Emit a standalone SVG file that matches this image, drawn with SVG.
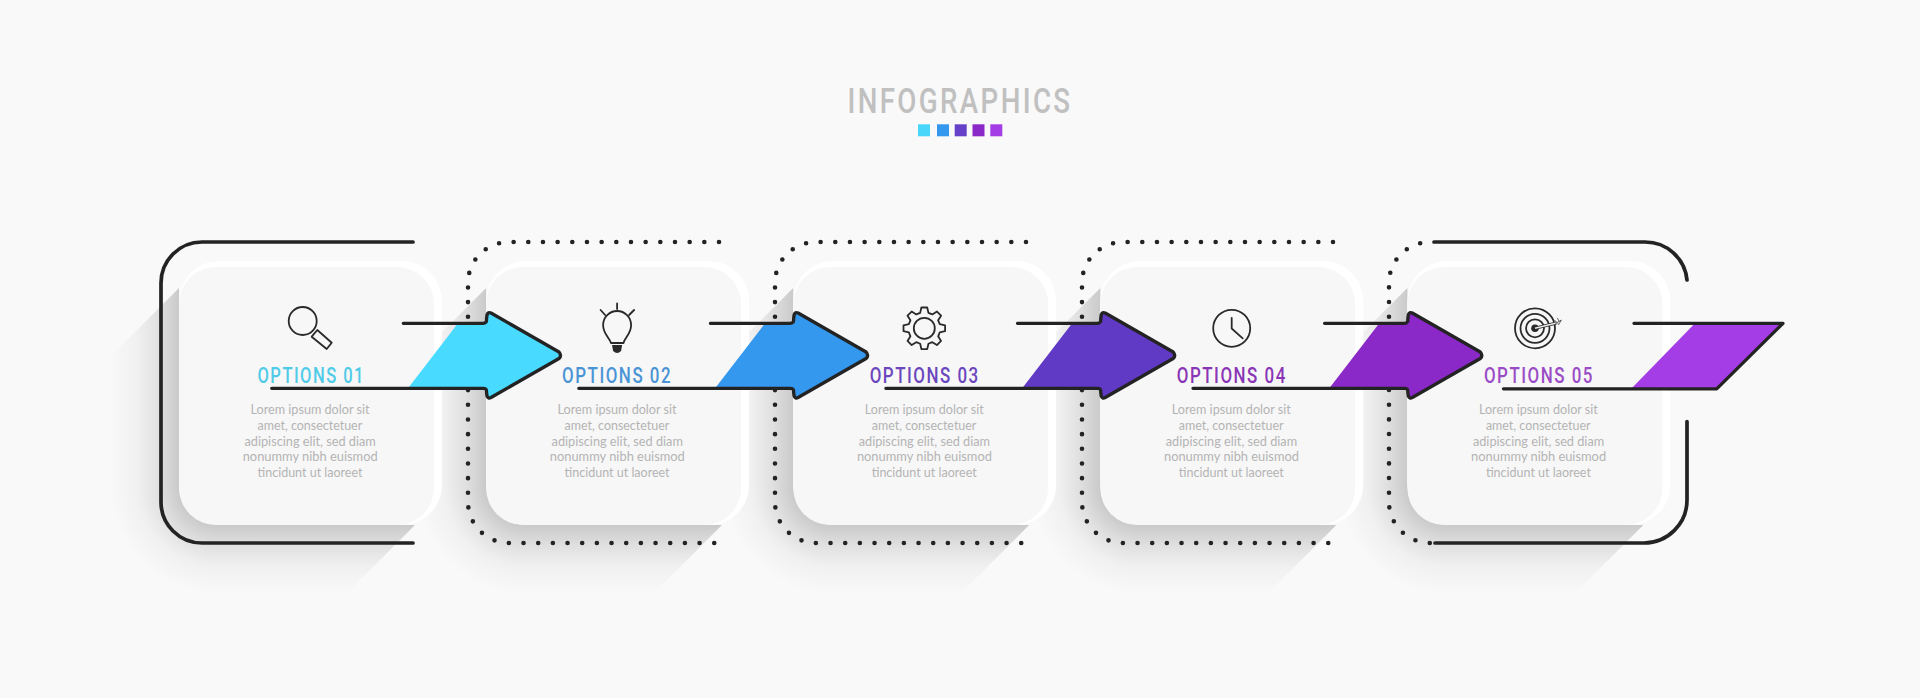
<svg xmlns="http://www.w3.org/2000/svg" xmlns:xlink="http://www.w3.org/1999/xlink" width="1920" height="698" viewBox="0 0 1920 698">
<style>
.title{font-family:Roboto,"Liberation Sans",sans-serif;font-size:35px;font-weight:500;fill:#c0c0c0}
.opt{font-family:Roboto,"Liberation Sans",sans-serif;font-size:22.5px;font-weight:500;letter-spacing:2px}
.body{font-family:Lato,"Open Sans",sans-serif;font-size:13.5px;fill:#b4b4b4}
.ic{fill:none;stroke:#2a2a2a;stroke-width:1.8;stroke-linejoin:round;stroke-linecap:round}
.line{fill:none;stroke:#232323;stroke-width:3.3;stroke-linecap:round;stroke-linejoin:round}
.dots{fill:none;stroke:#232323;stroke-width:4.6;stroke-linecap:round;stroke-dasharray:0 14.67}
.rim{fill:#ffffff}.card{fill:#f7f7f7}
</style>
<defs>
<linearGradient id="gl" gradientUnits="userSpaceOnUse" x1="179" y1="0" x2="109" y2="0"><stop offset="0" stop-color="#000" stop-opacity=".19"/><stop offset=".3" stop-color="#000" stop-opacity=".1"/><stop offset=".6" stop-color="#000" stop-opacity=".035"/><stop offset="1" stop-color="#000" stop-opacity="0"/></linearGradient>
<linearGradient id="gb" gradientUnits="userSpaceOnUse" x1="0" y1="525" x2="0" y2="595"><stop offset="0" stop-color="#000" stop-opacity=".19"/><stop offset=".3" stop-color="#000" stop-opacity=".1"/><stop offset=".6" stop-color="#000" stop-opacity=".035"/><stop offset="1" stop-color="#000" stop-opacity="0"/></linearGradient>
<radialGradient id="gc" gradientUnits="userSpaceOnUse" cx="219" cy="485" r="110"><stop offset=".364" stop-color="#000" stop-opacity=".19"/><stop offset=".555" stop-color="#000" stop-opacity=".1"/><stop offset=".745" stop-color="#000" stop-opacity=".035"/><stop offset="1" stop-color="#000" stop-opacity="0"/></radialGradient>
<clipPath id="sc"><polygon points="179,288 109,358 109,595 345,595 415,525 300,400"/></clipPath>
<g id="shadow" clip-path="url(#sc)">
<rect x="109" y="288" width="70" height="197" fill="url(#gl)"/>
<rect x="109" y="485" width="110" height="110" fill="url(#gc)"/>
<rect x="219" y="525" width="196" height="70" fill="url(#gb)"/>
</g>
<g id="panel">
<rect class="rim" x="179" y="261" width="263" height="264" rx="40" ry="40"/>
<rect class="card" x="179" y="267" width="255" height="258" rx="37" ry="37"/>
</g>
<path id="arrowFill" d="M408 388.3 L458 323.3 H483 Q487 323.3 486.5 319 L487 315 Q488 311.5 491 313 L559 352 Q562 355.7 559 358.5 L491 397.5 Q488 399 487 396 L486.5 392 Q487 388.3 483 388.3 Z"/>
<path id="arrowLine" class="line" d="M403.3 323.3 H483 Q487 323.3 486.5 319 L487 315 Q488 311.5 491 313 L559 352 Q562 355.7 559 358.5 L491 397.5 Q488 399 487 396 L486.5 392 Q487 388.3 483 388.3 H271.7"/>
</defs>
<rect width="1920" height="698" fill="#f9f9f9"/>

<g id="title">
<text class="title" x="847.5" y="112.5" textLength="225" lengthAdjust="spacingAndGlyphs" letter-spacing="3">INFOGRAPHICS</text>
<rect x="918" y="124.3" width="12" height="12" fill="#48d6fb"/>
<rect x="937" y="124.3" width="12" height="12" fill="#3498ef"/>
<rect x="954.7" y="124.3" width="12" height="12" fill="#6540c8"/>
<rect x="972.5" y="124.3" width="12" height="12" fill="#8a28c8"/>
<rect x="990.3" y="124.3" width="12" height="12" fill="#a43de5"/>
</g>

<g id="step-5" transform="translate(1228.4 0)">
<use href="#shadow"/><use href="#panel"/>
<circle class="ic" cx="306.6" cy="328.3" r="20"/><circle class="ic" cx="306.6" cy="328.3" r="14.5"/><circle class="ic" cx="306.6" cy="328.3" r="9"/><circle cx="306.6" cy="328.3" r="3.8" fill="#2a2a2a"/>
<path d="M306.6 328.3 L328 323" stroke="#2a2a2a" stroke-width="3" fill="none"/>
<path d="M306.6 328.3 L328 323" stroke="#e8e8e8" stroke-width="1.5" fill="none"/>
<path d="M326 320 L330 324 M327 323.6 L333 320 M330 325 L333 320 M329 318 L331 322" stroke="#666" stroke-width="1" fill="none"/>
<text class="opt" x="255.5" y="382.7" textLength="110" lengthAdjust="spacingAndGlyphs" fill="#9a4cc6">OPTIONS 05</text>
<text class="body" x="250.5" y="414" textLength="119" lengthAdjust="spacingAndGlyphs">Lorem ipsum dolor sit</text>
<text class="body" x="257.5" y="430" textLength="104.7" lengthAdjust="spacingAndGlyphs">amet, consectetuer</text>
<text class="body" x="244.5" y="445.6" textLength="131.3" lengthAdjust="spacingAndGlyphs">adipiscing elit, sed diam</text>
<text class="body" x="242.7" y="461.4" textLength="135" lengthAdjust="spacingAndGlyphs">nonummy nibh euismod</text>
<text class="body" x="257.5" y="477" textLength="105" lengthAdjust="spacingAndGlyphs">tincidunt ut laoreet</text>
</g>

<g id="step-4" transform="translate(921.3 0)">
<use href="#shadow"/><use href="#panel"/>
<circle class="ic" cx="310.4" cy="328.3" r="18.5"/>
<path class="ic" d="M310.4 318 V328.5 L321.4 338.3"/>
<text class="opt" x="255.5" y="382.7" textLength="110" lengthAdjust="spacingAndGlyphs" fill="#8a35b5">OPTIONS 04</text>
<text class="body" x="250.5" y="414" textLength="119" lengthAdjust="spacingAndGlyphs">Lorem ipsum dolor sit</text>
<text class="body" x="257.5" y="430" textLength="104.7" lengthAdjust="spacingAndGlyphs">amet, consectetuer</text>
<text class="body" x="244.5" y="445.6" textLength="131.3" lengthAdjust="spacingAndGlyphs">adipiscing elit, sed diam</text>
<text class="body" x="242.7" y="461.4" textLength="135" lengthAdjust="spacingAndGlyphs">nonummy nibh euismod</text>
<text class="body" x="257.5" y="477" textLength="105" lengthAdjust="spacingAndGlyphs">tincidunt ut laoreet</text>
</g>

<g id="step-3" transform="translate(614.2 0)">
<use href="#shadow"/><use href="#panel"/>
<g transform="translate(310.1 328.3)"><polygon class="ic" points="15.45,-4.14 20.8,-2.92 20.8,2.92 15.45,4.14 13.86,8 16.77,12.64 12.64,16.77 8,13.86 4.14,15.45 2.92,20.8 -2.92,20.8 -4.14,15.45 -8,13.86 -12.64,16.77 -16.77,12.64 -13.86,8 -15.45,4.14 -20.8,2.92 -20.8,-2.92 -15.45,-4.14 -13.86,-8 -16.77,-12.64 -12.64,-16.77 -8,-13.86 -4.14,-15.45 -2.92,-20.8 2.92,-20.8 4.14,-15.45 8,-13.86 12.64,-16.77 16.77,-12.64 13.86,-8"/><circle class="ic" r="10.5"/></g>
<text class="opt" x="255.5" y="382.7" textLength="110" lengthAdjust="spacingAndGlyphs" fill="#6b46bd">OPTIONS 03</text>
<text class="body" x="250.5" y="414" textLength="119" lengthAdjust="spacingAndGlyphs">Lorem ipsum dolor sit</text>
<text class="body" x="257.5" y="430" textLength="104.7" lengthAdjust="spacingAndGlyphs">amet, consectetuer</text>
<text class="body" x="244.5" y="445.6" textLength="131.3" lengthAdjust="spacingAndGlyphs">adipiscing elit, sed diam</text>
<text class="body" x="242.7" y="461.4" textLength="135" lengthAdjust="spacingAndGlyphs">nonummy nibh euismod</text>
<text class="body" x="257.5" y="477" textLength="105" lengthAdjust="spacingAndGlyphs">tincidunt ut laoreet</text>
</g>

<g id="step-2" transform="translate(307.1 0)">
<use href="#shadow"/><use href="#panel"/>
<path class="ic" d="M303.9 343 C302 337 296 334 296 325 A14 14 0 1 1 324 325 C324 334 318 337 316.4 343 Z"/>
<path d="M304.9 345 H315 L314 351 Q310 355 306 351 Z" fill="#2a2a2a"/>
<path class="ic" d="M310 303.5 V309 M293.5 310 L298 315 M327 310 L322 315"/>
<text class="opt" x="255" y="382.7" textLength="110" lengthAdjust="spacingAndGlyphs" fill="#4a94d6">OPTIONS 02</text>
<text class="body" x="250.5" y="414" textLength="119" lengthAdjust="spacingAndGlyphs">Lorem ipsum dolor sit</text>
<text class="body" x="257.5" y="430" textLength="104.7" lengthAdjust="spacingAndGlyphs">amet, consectetuer</text>
<text class="body" x="244.5" y="445.6" textLength="131.3" lengthAdjust="spacingAndGlyphs">adipiscing elit, sed diam</text>
<text class="body" x="242.7" y="461.4" textLength="135" lengthAdjust="spacingAndGlyphs">nonummy nibh euismod</text>
<text class="body" x="257.5" y="477" textLength="105" lengthAdjust="spacingAndGlyphs">tincidunt ut laoreet</text>
</g>

<g id="step-1">
<use href="#shadow"/><use href="#panel"/>
<circle class="ic" cx="302.7" cy="321" r="14"/>
<polygon class="ic" points="317.3,330 331.7,342.7 326.7,349 311.7,336.7"/>
<text class="opt" x="257.5" y="382.7" textLength="107.5" lengthAdjust="spacingAndGlyphs" fill="#4fcbe8">OPTIONS 01</text>
<text class="body" x="250.5" y="414" textLength="119" lengthAdjust="spacingAndGlyphs">Lorem ipsum dolor sit</text>
<text class="body" x="257.5" y="430" textLength="104.7" lengthAdjust="spacingAndGlyphs">amet, consectetuer</text>
<text class="body" x="244.5" y="445.6" textLength="131.3" lengthAdjust="spacingAndGlyphs">adipiscing elit, sed diam</text>
<text class="body" x="242.7" y="461.4" textLength="135" lengthAdjust="spacingAndGlyphs">nonummy nibh euismod</text>
<text class="body" x="257.5" y="477" textLength="105" lengthAdjust="spacingAndGlyphs">tincidunt ut laoreet</text>
</g>

<g id="connectors">
<path class="line" style="stroke-width:3.7" d="M413 242 H202 A41 41 0 0 0 161 283 V502 A41 41 0 0 0 202 543 H413"/>
<path class="dots" d="M719 242 H509 A41 41 0 0 0 468 283 V502 A41 41 0 0 0 509 543 H717"/>
<path class="dots" transform="translate(307 0)" d="M719 242 H509 A41 41 0 0 0 468 283 V502 A41 41 0 0 0 509 543 H717"/>
<path class="dots" transform="translate(614 0)" d="M719 242 H509 A41 41 0 0 0 468 283 V502 A41 41 0 0 0 509 543 H717"/>
<path class="dots" stroke-dashoffset="-9.97" transform="translate(921 0)" d="M509 242 A41 41 0 0 0 468 283 V502 A41 41 0 0 0 509 543 H510"/>
<path class="line" style="stroke-width:3.7" d="M1434 242 H1645 A42 42 0 0 1 1687 280"/>
<path class="line" style="stroke-width:3.7" d="M1687 421.5 V500 A43 43 0 0 1 1644 543 H1435"/>
<use href="#arrowFill" fill="#48daff"/><use href="#arrowLine"/>
<g transform="translate(307.1 0)"><use href="#arrowFill" fill="#3498ef"/><use href="#arrowLine"/></g>
<g transform="translate(614.2 0)"><use href="#arrowFill" fill="#6039c4"/><use href="#arrowLine"/></g>
<g transform="translate(921.3 0)"><use href="#arrowFill" fill="#8a28c8"/><use href="#arrowLine"/></g>
<path d="M1631.7 388.3 L1695 323.3 H1783 L1716.7 388.3 Z" fill="#a43de5"/>
<path class="line" d="M1634 323.3 H1783 L1716.7 388.8 H1503.5"/>
</g>
</svg>
